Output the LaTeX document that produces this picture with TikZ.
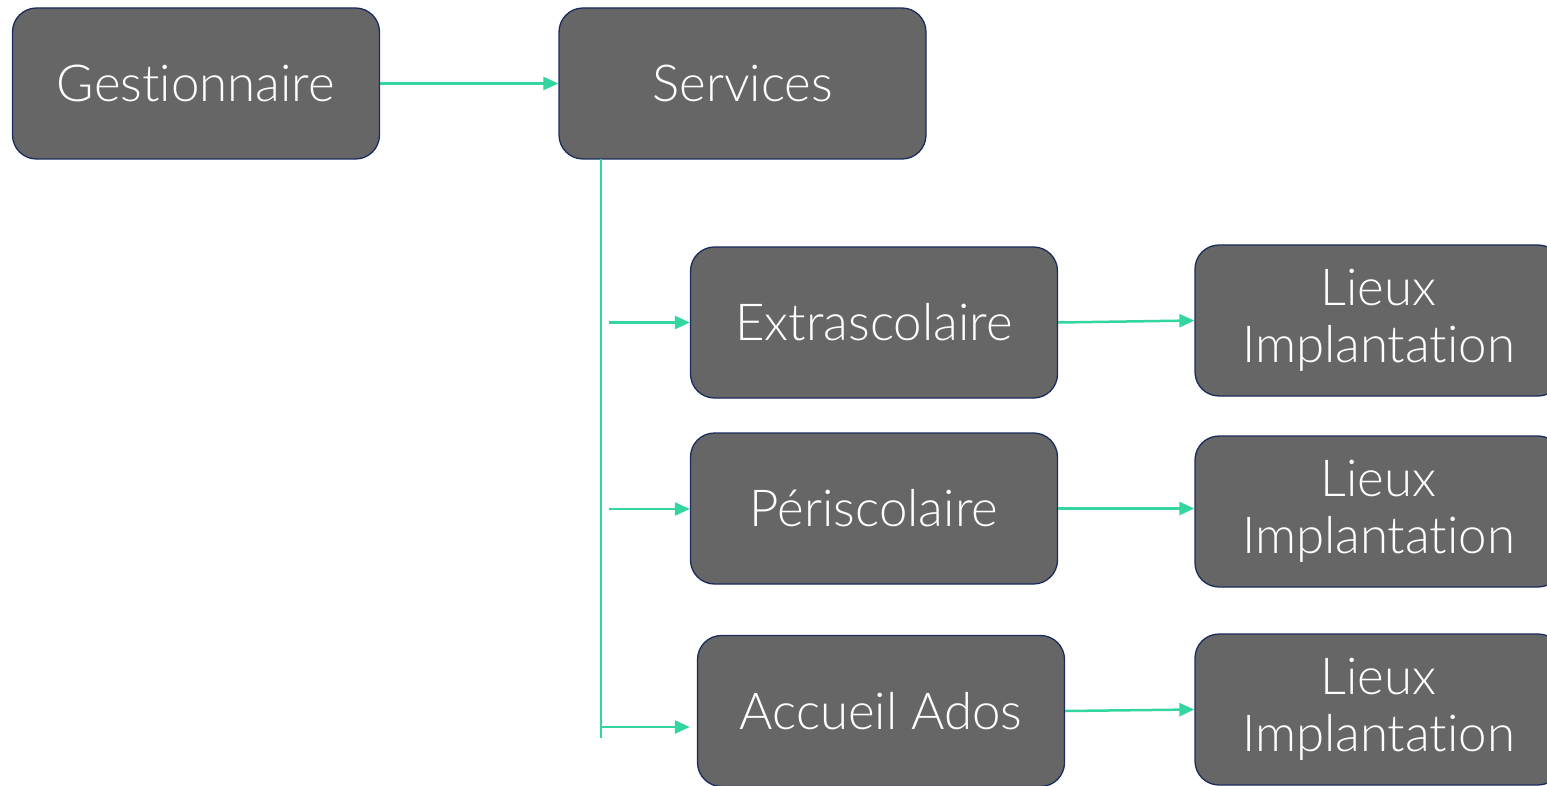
\documentclass[tikz,border=0pt]{standalone}
\usepackage{fontspec}
\setmainfont{Lato Light}[Ligatures=NoCommon]
\usetikzlibrary{arrows.meta}
\definecolor{boxfill}{HTML}{666666}
\definecolor{boxline}{HTML}{1B2B5E}
\definecolor{linkc}{HTML}{33D6A0}
\tikzset{
  box/.style={draw=boxline, line width=1.3pt, fill=boxfill, rounded corners=24pt,
    minimum width=367pt, minimum height=151pt, text=white, align=center,
    font=\fontsize{51}{57}\selectfont, inner sep=0pt},
  link/.style={draw=linkc, line width=2.5pt, -{Triangle[length=15pt,width=13pt]}},
  trunk/.style={draw=linkc, line width=2.5pt}
}
\begin{document}
\begin{tikzpicture}[x=1pt,y=-1pt]
\useasboundingbox (0,0) rectangle (1547,786);
\clip (0,0) rectangle (1547,786);
\node[box] (gest) at (196,83.5) {Gestionnaire};
\node[box] (serv) at (742.5,83.5) {Services};
\node[box] (ext) at (874,322.5) {Extrascolaire};
\node[box] (peri) at (874,508.5) {Périscolaire};
\node[box] (ado) at (881,711) {Accueil Ados};
\node[box] (l1) at (1378.5,320.5) {Lieux\\Implantation};
\node[box] (l2) at (1378.5,511.5) {Lieux\\Implantation};
\node[box] (l3) at (1378.5,709.5) {Lieux\\Implantation};
\coordinate (ttop) at (601,159);
\coordinate (tbot) at (601,738);
\coordinate (b1) at (609,322.5);
\coordinate (b2) at (609,509);
\coordinate (b3) at (601,727);
\draw[link] (gest) -- (serv);
\draw[trunk] (ttop) -- (tbot);
\draw[link] (b1) -- (b1 -| ext.west);
\draw[link] (b2) -- (b2 -| peri.west);
\draw[link, shorten >=7pt] (b3) -- (b3 -| ado.west);
\draw[link] (ext.east) -- (l1.west);
\draw[link] (peri.east) -- (peri.east -| l2.west);
\draw[link] (ado.east) -- (l3.west);
\end{tikzpicture}
\end{document}
